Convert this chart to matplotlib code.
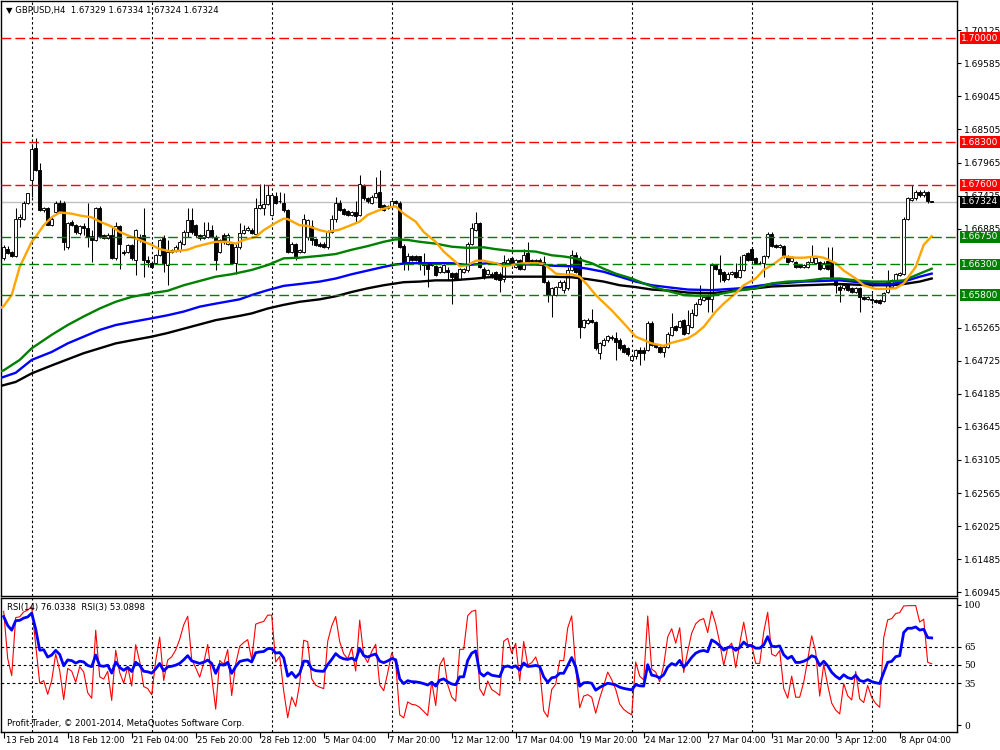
import matplotlib
matplotlib.use("Agg")
import matplotlib.pyplot as plt

plt.rcParams['font.family'] = ['DejaVu Sans']

# ---------------------------------------------------------------------------
# GBPUSD H4 candles (bar 0 = 13 Feb 20:00)
# ---------------------------------------------------------------------------
opens = [
    1.6640, 1.6656, 1.6650, 1.6644, 1.6704, 1.6705, 1.6731, 1.6768, 1.6820, 1.6784,
    1.6719, 1.6722, 1.6694, 1.6716, 1.6731, 1.6731, 1.6659, 1.6700, 1.6694, 1.6681,
    1.6692, 1.6689, 1.6676, 1.6670, 1.6723, 1.6678, 1.6673, 1.6678, 1.6640, 1.6692,
    1.6651, 1.6651, 1.6662, 1.6637, 1.6675, 1.6678, 1.6637, 1.6632, 1.6632, 1.6645,
    1.6673, 1.6629, 1.6651, 1.6654, 1.6654, 1.6664, 1.6683, 1.6703, 1.6694, 1.6678,
    1.6673, 1.6675, 1.6687, 1.6675, 1.6651, 1.6678, 1.6664, 1.6664, 1.6632, 1.6659,
    1.6681, 1.6686, 1.6687, 1.6680, 1.6722, 1.6722, 1.6729, 1.6711, 1.6742, 1.6734,
    1.6731, 1.6719, 1.6651, 1.6663, 1.6651, 1.6651, 1.6675, 1.6693, 1.6671, 1.6664,
    1.6664, 1.6659, 1.6683, 1.6704, 1.6730, 1.6721, 1.6717, 1.6711, 1.6716, 1.6711,
    1.6760, 1.6738, 1.6731, 1.6741, 1.6748, 1.6727, 1.6722, 1.6725, 1.6734, 1.6731,
    1.6660, 1.6634, 1.6644, 1.6644, 1.6643, 1.6634, 1.6632, 1.6630, 1.6627, 1.6618,
    1.6618, 1.6621, 1.6616, 1.6616, 1.6607, 1.6618, 1.6621, 1.6664, 1.6686, 1.6697,
    1.6623, 1.6615, 1.6615, 1.6618, 1.6615, 1.6607, 1.6633, 1.6640, 1.6626, 1.6637,
    1.6623, 1.6648, 1.6637, 1.6635, 1.6637, 1.6634, 1.6602, 1.6580, 1.6580, 1.6593,
    1.6589, 1.6591, 1.6621, 1.6645, 1.6640, 1.6528, 1.6535, 1.6540, 1.6536, 1.6486,
    1.6498, 1.6506, 1.6512, 1.6509, 1.6507, 1.6498, 1.6493, 1.6474, 1.6480, 1.6490,
    1.6491, 1.6490, 1.6535, 1.6498, 1.6495, 1.6487, 1.6495, 1.6515, 1.6529, 1.6528,
    1.6539, 1.6518, 1.6528, 1.6547, 1.6566, 1.6572, 1.6579, 1.6574, 1.6629, 1.6623,
    1.6618, 1.6606, 1.6615, 1.6618, 1.6610, 1.6621, 1.6648, 1.6656, 1.6640, 1.6633,
    1.6632, 1.6643, 1.6680, 1.6662, 1.6659, 1.6660, 1.6644, 1.6636, 1.6634, 1.6629,
    1.6626, 1.6626, 1.6634, 1.6632, 1.6634, 1.6625, 1.6636, 1.6634, 1.6604, 1.6593,
    1.6591, 1.6596, 1.6591, 1.6585, 1.6591, 1.6577, 1.6574, 1.6574, 1.6572, 1.6572,
    1.6571, 1.6585, 1.6593, 1.6603, 1.6613, 1.6615, 1.6704, 1.6736, 1.6738, 1.6749,
    1.6743, 1.6749, 1.67329,
]
highs = [
    1.6662, 1.6660, 1.6652, 1.6723, 1.6713, 1.6733, 1.6747, 1.6825, 1.6836, 1.6795,
    1.6724, 1.6724, 1.6707, 1.6734, 1.6735, 1.6733, 1.6700, 1.6703, 1.6696, 1.6695,
    1.6697, 1.6731, 1.6686, 1.6724, 1.6725, 1.6680, 1.6681, 1.6692, 1.6700, 1.6694,
    1.6654, 1.6664, 1.6664, 1.6688, 1.6680, 1.6723, 1.6643, 1.6634, 1.6647, 1.6672,
    1.6678, 1.6670, 1.6656, 1.6661, 1.6670, 1.6686, 1.6722, 1.6722, 1.6696, 1.6680,
    1.6700, 1.6700, 1.6694, 1.6678, 1.6672, 1.6681, 1.6681, 1.6667, 1.6664, 1.6697,
    1.6694, 1.6692, 1.6690, 1.6738, 1.6762, 1.6762, 1.6760, 1.6746, 1.6749, 1.6749,
    1.6746, 1.6721, 1.6666, 1.6665, 1.6656, 1.6713, 1.6705, 1.6703, 1.6673, 1.6666,
    1.6667, 1.6686, 1.6711, 1.6741, 1.6735, 1.6723, 1.6719, 1.6718, 1.6733, 1.6776,
    1.6762, 1.6741, 1.6743, 1.6773, 1.6784, 1.6729, 1.6727, 1.6735, 1.6736, 1.6733,
    1.6664, 1.6648, 1.6646, 1.6646, 1.6644, 1.6649, 1.6634, 1.6632, 1.6629, 1.6628,
    1.6631, 1.6626, 1.6618, 1.6618, 1.6625, 1.6625, 1.6667, 1.6697, 1.6715, 1.6699,
    1.6626, 1.6623, 1.6617, 1.6620, 1.6618, 1.6645, 1.6640, 1.6642, 1.6639, 1.6639,
    1.6656, 1.6667, 1.6639, 1.6639, 1.6640, 1.6643, 1.6604, 1.6593, 1.6595, 1.6604,
    1.6604, 1.6626, 1.6654, 1.6651, 1.6643, 1.6541, 1.6542, 1.6558, 1.6538, 1.6503,
    1.6509, 1.6515, 1.6514, 1.6520, 1.6509, 1.6500, 1.6495, 1.6482, 1.6492, 1.6495,
    1.6495, 1.6537, 1.6537, 1.6500, 1.6497, 1.6497, 1.6519, 1.6550, 1.6531, 1.6540,
    1.6541, 1.6555, 1.6558, 1.6568, 1.6596, 1.6579, 1.6581, 1.6632, 1.6631, 1.6645,
    1.6620, 1.6617, 1.6620, 1.6632, 1.6644, 1.6647, 1.6650, 1.6659, 1.6642, 1.6635,
    1.6645, 1.6683, 1.6683, 1.6664, 1.6664, 1.6662, 1.6646, 1.6643, 1.6636, 1.6631,
    1.6631, 1.6636, 1.6662, 1.6642, 1.6636, 1.6635, 1.6659, 1.6659, 1.6607, 1.6596,
    1.6598, 1.6598, 1.6593, 1.6593, 1.6593, 1.6579, 1.6579, 1.6583, 1.6574, 1.6574,
    1.6585, 1.6621, 1.6606, 1.6616, 1.6618, 1.6707, 1.6740, 1.6760, 1.6752, 1.6751,
    1.6751, 1.6750, 1.67334,
]
lows = [
    1.6637, 1.6647, 1.6642, 1.6642, 1.6691, 1.6702, 1.6729, 1.6741, 1.6783, 1.6717,
    1.6716, 1.6694, 1.6693, 1.6713, 1.6714, 1.6654, 1.6656, 1.6692, 1.6680, 1.6678,
    1.6678, 1.6659, 1.6634, 1.6668, 1.6674, 1.6671, 1.6671, 1.6639, 1.6637, 1.6623,
    1.6646, 1.6649, 1.6638, 1.6613, 1.6667, 1.6610, 1.6626, 1.6624, 1.6630, 1.6643,
    1.6618, 1.6596, 1.6649, 1.6651, 1.6651, 1.6662, 1.6675, 1.6680, 1.6675, 1.6670,
    1.6671, 1.6673, 1.6673, 1.6621, 1.6648, 1.6664, 1.6662, 1.6630, 1.6615, 1.6656,
    1.6679, 1.6684, 1.6679, 1.6678, 1.6720, 1.6711, 1.6727, 1.6709, 1.6729, 1.6731,
    1.6716, 1.6649, 1.6649, 1.6638, 1.6649, 1.6649, 1.6670, 1.6662, 1.6660, 1.6659,
    1.6657, 1.6656, 1.6681, 1.6700, 1.6717, 1.6711, 1.6709, 1.6709, 1.6700, 1.6709,
    1.6736, 1.6731, 1.6729, 1.6739, 1.6722, 1.6717, 1.6720, 1.6723, 1.6729, 1.6657,
    1.6621, 1.6621, 1.6636, 1.6635, 1.6621, 1.6613, 1.6593, 1.6627, 1.6611, 1.6616,
    1.6616, 1.6604, 1.6566, 1.6605, 1.6605, 1.6616, 1.6618, 1.6662, 1.6684, 1.6624,
    1.6607, 1.6613, 1.6608, 1.6605, 1.6585, 1.6602, 1.6631, 1.6630, 1.6624, 1.6621,
    1.6621, 1.6632, 1.6633, 1.6633, 1.6632, 1.6600, 1.6569, 1.6544, 1.6578, 1.6591,
    1.6583, 1.6588, 1.6619, 1.6616, 1.6509, 1.6526, 1.6533, 1.6534, 1.6491, 1.6476,
    1.6496, 1.6504, 1.6507, 1.6474, 1.6491, 1.6485, 1.6481, 1.6472, 1.6476, 1.6466,
    1.6474, 1.6488, 1.6496, 1.6493, 1.6485, 1.6479, 1.6493, 1.6513, 1.6521, 1.6526,
    1.6515, 1.6516, 1.6526, 1.6545, 1.6564, 1.6570, 1.6553, 1.6553, 1.6621, 1.6602,
    1.6602, 1.6604, 1.6613, 1.6608, 1.6608, 1.6619, 1.6635, 1.6635, 1.6630, 1.6630,
    1.6610, 1.6641, 1.6658, 1.6657, 1.6657, 1.6641, 1.6632, 1.6634, 1.6624, 1.6624,
    1.6624, 1.6624, 1.6632, 1.6630, 1.6621, 1.6623, 1.6621, 1.6604, 1.6583, 1.6569,
    1.6589, 1.6586, 1.6583, 1.6583, 1.6553, 1.6572, 1.6572, 1.6566, 1.6567, 1.6565,
    1.6569, 1.6583, 1.6591, 1.6601, 1.6611, 1.6613, 1.6702, 1.6734, 1.6736, 1.6741,
    1.6741, 1.6731, 1.67324,
]
closes = [
    1.6658, 1.6649, 1.6644, 1.6704, 1.6707, 1.6731, 1.6746, 1.6819, 1.6784, 1.6719,
    1.6722, 1.6694, 1.6705, 1.6731, 1.6716, 1.6667, 1.6697, 1.6694, 1.6683, 1.6692,
    1.6689, 1.6675, 1.6670, 1.6722, 1.6676, 1.6673, 1.6678, 1.6640, 1.6692, 1.6664,
    1.6648, 1.6662, 1.6640, 1.6686, 1.6670, 1.6637, 1.6634, 1.6626, 1.6645, 1.6670,
    1.6632, 1.6651, 1.6654, 1.6659, 1.6667, 1.6683, 1.6703, 1.6683, 1.6678, 1.6673,
    1.6678, 1.6686, 1.6675, 1.6637, 1.6670, 1.6667, 1.6678, 1.6632, 1.6659, 1.6681,
    1.6686, 1.6689, 1.6681, 1.6723, 1.6727, 1.6729, 1.6743, 1.6743, 1.6731, 1.6733,
    1.6719, 1.6651, 1.6664, 1.6640, 1.6654, 1.6704, 1.6703, 1.6670, 1.6662, 1.6660,
    1.6659, 1.6683, 1.6704, 1.6731, 1.6719, 1.6713, 1.6711, 1.6716, 1.6709, 1.6761,
    1.6738, 1.6733, 1.6741, 1.6746, 1.6724, 1.6719, 1.6725, 1.6733, 1.6730, 1.6659,
    1.6634, 1.6643, 1.6638, 1.6637, 1.6634, 1.6629, 1.6623, 1.6629, 1.6613, 1.6626,
    1.6629, 1.6618, 1.6610, 1.6607, 1.6623, 1.6623, 1.6664, 1.6689, 1.6698, 1.6626,
    1.6610, 1.6621, 1.6610, 1.6607, 1.6604, 1.6634, 1.6637, 1.6632, 1.6637, 1.6623,
    1.6645, 1.6634, 1.6635, 1.6637, 1.6634, 1.6602, 1.6580, 1.6591, 1.6593, 1.6602,
    1.6602, 1.6621, 1.6645, 1.6618, 1.6528, 1.6539, 1.6540, 1.6536, 1.6493, 1.6501,
    1.6507, 1.6513, 1.6509, 1.6504, 1.6493, 1.6487, 1.6483, 1.6480, 1.6490, 1.6486,
    1.6485, 1.6535, 1.6498, 1.6495, 1.6487, 1.6495, 1.6517, 1.6528, 1.6523, 1.6538,
    1.6517, 1.6531, 1.6550, 1.6566, 1.6574, 1.6577, 1.6574, 1.6629, 1.6623, 1.6615,
    1.6604, 1.6615, 1.6618, 1.6610, 1.6621, 1.6645, 1.6637, 1.6637, 1.6632, 1.6632,
    1.6643, 1.6680, 1.6660, 1.6659, 1.6662, 1.6643, 1.6634, 1.6641, 1.6626, 1.6626,
    1.6629, 1.6634, 1.6643, 1.6640, 1.6623, 1.6633, 1.6623, 1.6607, 1.6596, 1.6588,
    1.6596, 1.6588, 1.6585, 1.6591, 1.6577, 1.6574, 1.6577, 1.6572, 1.6569, 1.6567,
    1.6583, 1.6602, 1.6604, 1.6614, 1.6616, 1.6705, 1.6738, 1.6738, 1.6749, 1.6743,
    1.6749, 1.6733, 1.67324,
]

# moving averages (bar index, value)
ma_orange = [
    (-1, 1.6558), (0, 1.6562), (2, 1.6580), (4, 1.6626), (7, 1.6667), (8, 1.6675),
    (10, 1.6694), (12, 1.6707), (14, 1.6715), (17, 1.6713), (19, 1.6710), (22, 1.6707),
    (24, 1.6700), (27, 1.6692), (29, 1.6683), (32, 1.6675), (34, 1.6670), (37, 1.6662),
    (39, 1.6655), (42, 1.6651), (46, 1.6654), (48, 1.6659), (51, 1.6664), (53, 1.6667),
    (56, 1.6667), (58, 1.6664), (60, 1.6670), (63, 1.6675), (65, 1.6686), (68, 1.6698),
    (70, 1.6705), (71, 1.6704), (74, 1.6694), (76, 1.6693), (79, 1.6686), (81, 1.6683),
    (84, 1.6687), (86, 1.6692), (89, 1.6700), (91, 1.6711), (94, 1.6719), (96, 1.6723),
    (98, 1.6725), (100, 1.6713), (103, 1.6700), (105, 1.6683), (108, 1.6667),
    (110, 1.6651), (113, 1.6634), (114, 1.6627), (116, 1.6629), (118, 1.6636),
    (120, 1.6636), (123, 1.6632), (125, 1.6627), (127, 1.6629), (130, 1.6632),
    (133, 1.6632), (135, 1.6631), (137, 1.6621), (138, 1.6615), (141, 1.6613),
    (142, 1.6614), (144, 1.6610), (146, 1.6596), (148, 1.6580), (152, 1.6555),
    (155, 1.6534), (158, 1.6512), (162, 1.6501), (165, 1.6497), (167, 1.6502),
    (171, 1.6509), (173, 1.6517), (175, 1.6528), (178, 1.6553), (180, 1.6566),
    (183, 1.6583), (185, 1.6596), (188, 1.6607), (190, 1.6621), (193, 1.6633),
    (195, 1.6643), (198, 1.6641), (200, 1.6641), (203, 1.6643), (205, 1.6641),
    (208, 1.6632), (210, 1.6620), (213, 1.6607), (215, 1.6596), (218, 1.6590),
    (220, 1.6590), (223, 1.6591), (225, 1.6599), (228, 1.6626), (230, 1.6662),
    (232, 1.6676),
]
ma_green = [
    (-1, 1.6455), (0, 1.6457), (4, 1.6474), (7, 1.6493), (12, 1.6515), (16, 1.6531),
    (20, 1.6545), (24, 1.6558), (28, 1.6569), (32, 1.6577), (37, 1.6583), (41, 1.6587),
    (45, 1.6596), (49, 1.6603), (53, 1.6610), (57, 1.6614), (62, 1.6621), (66, 1.6629),
    (70, 1.6640), (74, 1.6641), (79, 1.6644), (83, 1.6647), (87, 1.6654), (91, 1.6660),
    (95, 1.6667), (98, 1.6671), (101, 1.6670), (104, 1.6667), (108, 1.6664),
    (112, 1.6659), (116, 1.6657), (120, 1.6658), (123, 1.6655), (127, 1.6652),
    (130, 1.6652), (133, 1.6651), (137, 1.6645), (140, 1.6643), (143, 1.6640),
    (147, 1.6632), (150, 1.6623), (153, 1.6615), (157, 1.6607), (160, 1.6599),
    (163, 1.6592), (167, 1.6585), (170, 1.6580), (173, 1.6579), (177, 1.6579),
    (180, 1.6583), (184, 1.6588), (188, 1.6591), (192, 1.6599), (196, 1.6602),
    (200, 1.6603), (205, 1.6607), (209, 1.6607), (213, 1.6604), (217, 1.6602),
    (221, 1.6602), (225, 1.6604), (229, 1.6615), (232, 1.6623),
]
ma_blue = [
    (-1, 1.6444), (3, 1.6453), (7, 1.6474), (12, 1.6487), (16, 1.6501), (20, 1.6512),
    (24, 1.6523), (28, 1.6531), (32, 1.6536), (37, 1.6542), (41, 1.6547), (45, 1.6553),
    (49, 1.6561), (53, 1.6566), (59, 1.6573), (62, 1.6580), (66, 1.6588), (70, 1.6595),
    (74, 1.6598), (79, 1.6602), (83, 1.6607), (87, 1.6614), (91, 1.6620), (95, 1.6626),
    (98, 1.6630), (101, 1.6632), (104, 1.6632), (108, 1.6632), (112, 1.6632),
    (116, 1.6629), (121, 1.6632), (125, 1.6630), (129, 1.6630), (133, 1.6630),
    (137, 1.6628), (142, 1.6627), (146, 1.6623), (150, 1.6618), (154, 1.6610),
    (158, 1.6602), (162, 1.6596), (167, 1.6592), (171, 1.6589), (177, 1.6588),
    (184, 1.6591), (192, 1.6598), (200, 1.6602), (209, 1.6604), (217, 1.6599),
    (222, 1.6598), (225, 1.6602), (229, 1.6610), (232, 1.6615),
]
ma_black = [
    (-1, 1.6431), (3, 1.6438), (7, 1.6452), (12, 1.6465), (16, 1.6475), (20, 1.6485),
    (24, 1.6493), (28, 1.6501), (32, 1.6506), (37, 1.6512), (41, 1.6518), (45, 1.6525),
    (49, 1.6532), (53, 1.6539), (59, 1.6546), (62, 1.6550), (66, 1.6558), (70, 1.6564),
    (74, 1.6569), (79, 1.6573), (83, 1.6578), (87, 1.6585), (91, 1.6591), (95, 1.6596),
    (100, 1.6601), (104, 1.6602), (108, 1.6604), (112, 1.6604), (118, 1.6607),
    (121, 1.6609), (125, 1.6610), (129, 1.6610), (133, 1.6610), (137, 1.6610),
    (142, 1.6609), (146, 1.6606), (150, 1.6602), (154, 1.6596), (158, 1.6593),
    (162, 1.6589), (167, 1.6587), (171, 1.6584), (177, 1.6583), (184, 1.6588),
    (192, 1.6594), (200, 1.6596), (209, 1.6598), (217, 1.6596), (222, 1.6596),
    (225, 1.6598), (229, 1.6602), (232, 1.6607),
]

# right-hand price scale (labels hidden behind the level boxes are left out)
price_ticks = [1.70125, 1.69585, 1.69045, 1.68505, 1.67965, 1.67425, 1.66885,
               1.65265, 1.64725, 1.64185, 1.63645, 1.63105, 1.62565, 1.62025,
               1.61485, 1.60945]
red_levels = [1.70000, 1.68300, 1.67600]
green_levels = [1.66750, 1.66300, 1.65800]
last_price = 1.67324

time_label_bars = [0, 16, 32, 48, 64, 80, 96, 112, 128, 144, 160, 176, 192, 208, 224]
time_labels = ["13 Feb 2014", "18 Feb 12:00", "21 Feb 04:00", "25 Feb 20:00",
               "28 Feb 12:00", "5 Mar 04:00", "7 Mar 20:00", "12 Mar 12:00",
               "17 Mar 04:00", "19 Mar 20:00", "24 Mar 12:00", "27 Mar 04:00",
               "31 Mar 20:00", "3 Apr 12:00", "8 Apr 04:00"]
grid_bars = [7, 37, 67, 97, 127, 157, 187, 217]

rsi_levels = [65, 50, 35]
rsi_ticks = [100, 65, 50, 35, 0]

TXT = 6.1


def wilder_rsi(values, period, gain0, loss0):
    # MT4-style RSI with Wilder smoothing, warm-started
    out = []
    ag, al = gain0, loss0
    prev = values[0]
    for v in values:
        d = v - prev
        ag = (ag * (period - 1) + max(d, 0.0)) / period
        al = (al * (period - 1) + max(-d, 0.0)) / period
        out.append(100.0 * ag / (ag + al) if ag + al > 0 else 50.0)
        prev = v
    return out


def px_axes(fig, left, top, right, bottom):
    W, H = 1000.0, 750.0
    return fig.add_axes([left / W, 1 - bottom / H, (right - left) / W, (bottom - top) / H])


fig = plt.figure(figsize=(10, 7.5), dpi=100)
fig.patch.set_facecolor('white')

ax = px_axes(fig, 1, 1, 957, 596)
ax_rsi = px_axes(fig, 1, 598, 957, 732)

n = len(closes)
xs = list(range(n))
xmin = -0.675
xmax = xmin + 956 / 4.0

# ---------------- main price panel ----------------
ax.set_xlim(xmin, xmax)
ax.set_ylim(1.608824, 1.706046)

for b in grid_bars:
    ax.axvline(b, color='black', lw=0.8, dashes=(2.2, 2.2), zorder=1)
    ax_rsi.axvline(b, color='black', lw=0.8, dashes=(2.2, 2.2), zorder=1)

ax.axhline(last_price, color='#C0C0C0', lw=1.0, zorder=1.5)

ax.vlines(xs, lows, highs, color='black', lw=0.75, zorder=2)
body_bottom = [min(o, c) for o, c in zip(opens, closes)]
body_height = [max(abs(c - o), 0.00003) for o, c in zip(opens, closes)]
body_color = ['white' if c >= o else 'black' for o, c in zip(opens, closes)]
ax.bar(xs, body_height, bottom=body_bottom, width=0.62, color=body_color,
       edgecolor='black', linewidth=0.65, zorder=3)

for series, col in [(ma_black, 'black'), (ma_blue, '#0000FF'),
                    (ma_green, '#008000'), (ma_orange, '#FFA500')]:
    ax.plot([p[0] for p in series], [p[1] for p in series], color=col, lw=1.7,
            zorder=4, solid_joinstyle='round')

for lv in red_levels:
    ax.axhline(lv, color='#FF0000', lw=1.0, dashes=(7, 3), zorder=5)
for lv in green_levels:
    ax.axhline(lv, color='#008000', lw=1.0, dashes=(7, 3), zorder=5)

ax.set_xticks([])
ax.yaxis.tick_right()
ax.set_yticks(price_ticks)
ax.set_yticklabels([f"{p:.5f}" for p in price_ticks])
ax.tick_params(axis='y', direction='out', length=3, width=0.8, pad=2,
               labelsize=6.5, colors='black')
for s in ax.spines.values():
    s.set_color('black')
    s.set_linewidth(1.0)

ytr = ax.get_yaxis_transform()
level_boxes = ([(lv, '#FF0000') for lv in red_levels] +
               [(lv, '#008000') for lv in green_levels] +
               [(last_price, 'black')])
for lv, col in level_boxes:
    ax.text(1.0045, lv, f"{lv:.5f}", transform=ytr, fontsize=6.5, color='white',
            va='center', ha='left', zorder=10, clip_on=False,
            bbox=dict(boxstyle='square,pad=0.14', fc=col, ec='none'))

ax.text(0.005, 0.984, "\u25bc GBPUSD,H4  1.67329 1.67334 1.67324 1.67324",
        transform=ax.transAxes, fontsize=TXT, va='center', ha='left', zorder=11)

# ---------------- RSI panel ----------------
rsi14 = wilder_rsi(closes, 14, 0.00075, 0.00008)
rsi3 = wilder_rsi(closes, 3, 0.0009, 0.00005)

ax_rsi.set_xlim(xmin, xmax)
ax_rsi.set_ylim(-5.83, 105.83)
for lv in rsi_levels:
    ax_rsi.axhline(lv, color='black', lw=0.8, dashes=(2.5, 2.5), zorder=1)
ax_rsi.plot(xs, rsi3, color='#FF0000', lw=0.8, zorder=3)
ax_rsi.plot(xs, rsi14, color='#0000FF', lw=2.0, zorder=4)

ax_rsi.yaxis.tick_right()
ax_rsi.set_yticks(rsi_ticks)
ax_rsi.set_yticklabels([str(t) for t in rsi_ticks], family='DejaVu Serif')
ax_rsi.tick_params(axis='y', direction='out', length=3, width=0.8, pad=2,
                   labelsize=6.5)
ax_rsi.set_xticks(time_label_bars)
ax_rsi.set_xticklabels([])
ax_rsi.tick_params(axis='x', direction='out', length=4, width=0.8)
for s in ax_rsi.spines.values():
    s.set_color('black')
    s.set_linewidth(1.0)

xtr = ax_rsi.get_xaxis_transform()
for b, lab in zip(time_label_bars, time_labels):
    ax_rsi.text(b + 0.45, -0.066, lab, transform=xtr, fontsize=TXT, va='center',
                ha='left', clip_on=False)

ax_rsi.text(0.006, 0.93, "RSI(14) 76.0338  RSI(3) 53.0898", transform=ax_rsi.transAxes,
            fontsize=TXT, va='center', ha='left', zorder=11)
ax_rsi.text(0.006, 0.06, "Profit-Trader, \u00a9 2001-2014, MetaQuotes Software Corp.",
            transform=ax_rsi.transAxes, fontsize=TXT, va='center', ha='left', zorder=11)

fig.savefig('out.png', dpi=100)
